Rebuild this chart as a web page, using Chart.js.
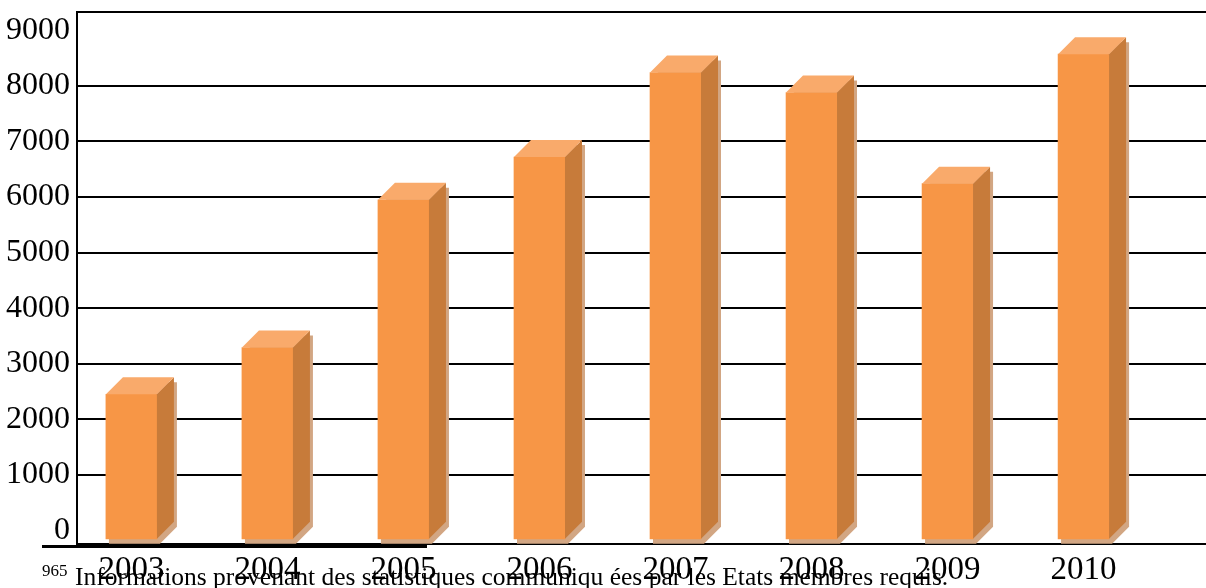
<!DOCTYPE html>
<html>
<head>
<meta charset="utf-8">
<script src="https://cdn.jsdelivr.net/npm/chart.js@4.4.0/dist/chart.umd.min.js"></script>
<style>
  html, body { margin: 0; padding: 0; background: #ffffff; }
  #wrap { width: 1206px; height: 588px; position: relative; }
</style>
</head>
<body>
<div id="wrap"><canvas id="chart"></canvas></div>
<script>
// Requests per year
const years = [2003, 2004, 2005, 2006, 2007, 2008, 2009, 2010];
const requests = [2450, 3290, 5950, 6720, 8240, 7880, 6240, 8570];

// Value-axis tick labels
const yTickValues = [0, 1000, 2000, 3000, 4000, 5000, 6000, 7000, 8000, 9000];
const yTickLabels = ['0', '1000', '2000', '3000', '4000', '5000', '6000', '7000', '8000', '9000'];

// Footnote under the chart
const footnoteMark = '965';
const footnoteText = 'Informations provenant des statistiques communiqu ées par les Etats membres requis.';

// Floor of the 3D columns, in value units (front face sits slightly below zero)
const FLOOR = -150;
const DEPTH = 17;

const SERIF = '"Liberation Serif", "Times New Roman", serif';
const FRONT = '#F79646';
const SIDE = '#C77B3A';
const TOP = '#F9AA6B';
const SHADOW = '#D2A683';

function barBox(el) {
  const p = el.getProps(['x', 'y', 'base', 'width'], true);
  return { L: p.x - p.width / 2, R: p.x + p.width / 2, T: p.y, B: p.base };
}

// Shadow behind each column, then top and side faces on top of the front face
const columns3d = {
  id: 'columns3d',
  beforeDatasetsDraw(chart) {
    const ctx = chart.ctx;
    const d = DEPTH, ox = 3, oy = 5;
    chart.getDatasetMeta(0).data.forEach(el => {
      const { L, R, T, B } = barBox(el);
      ctx.save();
      ctx.fillStyle = SHADOW;
      ctx.beginPath();
      ctx.moveTo(L + ox, T + oy);
      ctx.lineTo(L + d + ox, T - d + oy);
      ctx.lineTo(R + d + ox, T - d + oy);
      ctx.lineTo(R + d + ox, B - d + oy);
      ctx.lineTo(R + ox, B + oy);
      ctx.lineTo(L + ox, B + oy);
      ctx.closePath();
      ctx.fill();
      ctx.restore();
    });
  },
  afterDatasetsDraw(chart) {
    const ctx = chart.ctx;
    const d = DEPTH;
    chart.getDatasetMeta(0).data.forEach(el => {
      const { L, R, T, B } = barBox(el);
      ctx.save();
      ctx.fillStyle = SIDE;
      ctx.beginPath();
      ctx.moveTo(R, T);
      ctx.lineTo(R + d, T - d);
      ctx.lineTo(R + d, B - d);
      ctx.lineTo(R, B);
      ctx.closePath();
      ctx.fill();
      ctx.fillStyle = TOP;
      ctx.beginPath();
      ctx.moveTo(L, T);
      ctx.lineTo(L + d, T - d);
      ctx.lineTo(R + d, T - d);
      ctx.lineTo(R, T);
      ctx.closePath();
      ctx.fill();
      ctx.restore();
    });
  }
};

// Top frame line and the footnote block
const frameAndNote = {
  id: 'frameAndNote',
  afterDraw(chart) {
    const ctx = chart.ctx;
    const a = chart.chartArea;
    ctx.save();
    ctx.strokeStyle = '#000000';
    ctx.lineWidth = 2;
    ctx.beginPath();
    ctx.moveTo(a.left - 1, a.top);
    ctx.lineTo(a.right, a.top);
    ctx.stroke();

    ctx.lineWidth = 3;
    ctx.beginPath();
    ctx.moveTo(42, a.bottom + 2.5);
    ctx.lineTo(427, a.bottom + 2.5);
    ctx.stroke();

    ctx.fillStyle = '#000000';
    ctx.textBaseline = 'alphabetic';
    ctx.textAlign = 'left';
    ctx.font = '17px ' + SERIF;
    ctx.fillText(footnoteMark, 42, 576);
    ctx.font = '25.5px ' + SERIF;
    ctx.fillText(footnoteText, 75, 585);
    ctx.restore();
  }
};

new Chart(document.getElementById('chart'), {
  type: 'bar',
  data: {
    datasets: [{
      data: years.map((yr, i) => ({ x: yr, y: requests[i] })),
      base: FLOOR,
      backgroundColor: FRONT,
      borderWidth: 0,
      barThickness: 51
    }]
  },
  options: {
    responsive: true,
    maintainAspectRatio: false,
    animation: false,
    layout: { padding: { top: 12, left: 0, right: 0, bottom: 0 } },
    plugins: { legend: { display: false }, tooltip: { enabled: false } },
    scales: {
      x: {
        type: 'linear',
        offset: false,
        min: 2002.6,
        max: 2010.9,
        grid: { display: false, drawTicks: false, offset: false },
        border: { display: true, color: '#000000', width: 2 },
        afterFit(scale) {
          scale.height = 44;
          scale.paddingLeft = 0;
          scale.paddingRight = 0;
        },
        afterBuildTicks(scale) { scale.ticks = years.map(v => ({ value: v })); },
        ticks: {
          padding: 7,
          color: '#000000',
          font: { family: SERIF, size: 33 },
          callback: v => String(v),
          maxRotation: 0,
          autoSkip: false
        }
      },
      y: {
        type: 'linear',
        min: -243,
        max: 9328,
        afterFit(scale) {
          scale.width = 77;
          scale.paddingTop = 0;
          scale.paddingBottom = 0;
        },
        afterBuildTicks(scale) { scale.ticks = yTickValues.map(v => ({ value: v })); },
        grid: {
          drawTicks: false,
          lineWidth: 2,
          color: c => (c.tick && c.tick.value >= 1000 && c.tick.value <= 8000) ? '#000000' : 'rgba(0,0,0,0)'
        },
        border: { display: true, color: '#000000', width: 2 },
        ticks: {
          padding: 7,
          color: '#000000',
          font: { family: SERIF, size: 32 },
          callback: v => yTickLabels[yTickValues.indexOf(v)]
        }
      }
    }
  },
  plugins: [columns3d, frameAndNote]
});
</script>
</body>
</html>
